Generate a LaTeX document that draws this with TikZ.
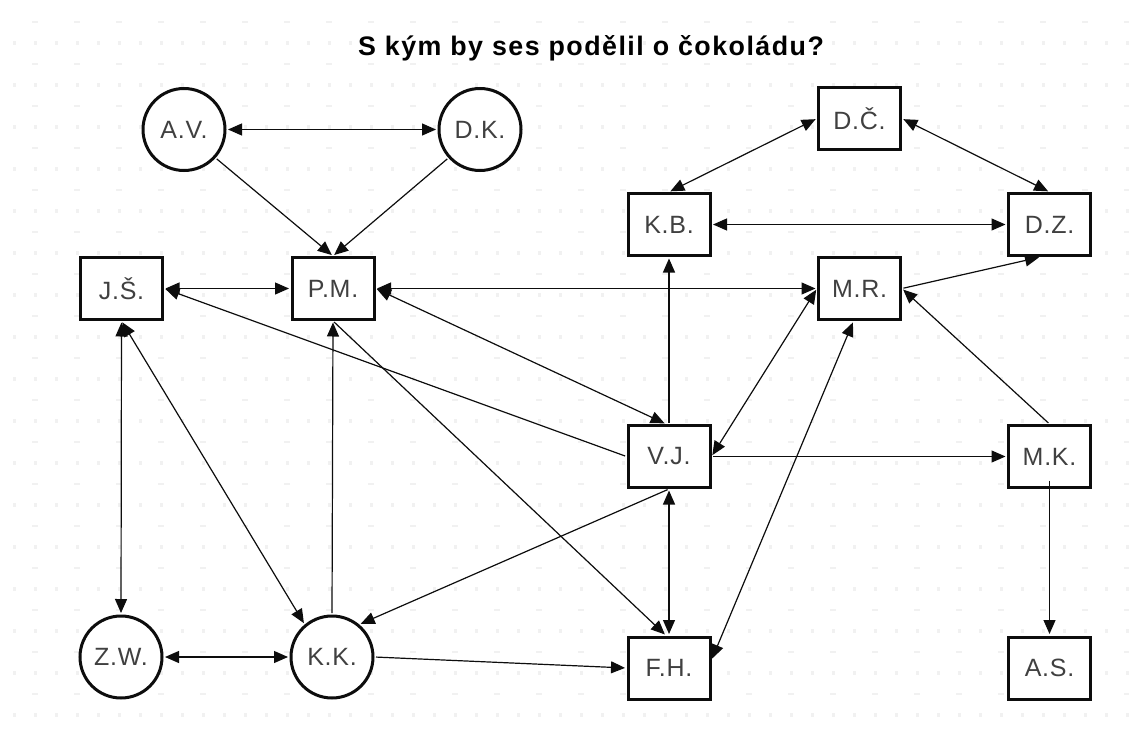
\documentclass[tikz,border=0pt]{standalone}
\usepackage{fontspec}
\setmainfont{Liberation Sans}
\newfontfamily\titlefont[LetterSpace=5.5]{Liberation Sans}
\newfontfamily\labelfont[LetterSpace=3]{Liberation Sans}
\usetikzlibrary{arrows.meta,shapes.geometric}
\definecolor{ink}{gray}{0.05}
\definecolor{labelink}{gray}{0.25}
\definecolor{griddot}{gray}{0.945}
\tikzset{
  boxnode/.style={draw=ink,line width=3pt,rectangle,minimum width=82pt,minimum height=62pt,inner sep=0pt,fill=white,text=labelink,font=\labelfont\fontsize{25}{28}\selectfont},
  disc/.style={draw=ink,line width=3pt,circle,minimum size=82pt,inner sep=0pt,fill=white,text=labelink,font=\labelfont\fontsize{25}{28}\selectfont},
  tip/.style={-{Triangle[length=14pt,width=12pt]}},
  bothtips/.style={{Triangle[length=14pt,width=12pt]}-{Triangle[length=14pt,width=12pt]}},
  link/.style={draw=ink,line width=1.2pt,shorten >=1.5pt,shorten <=1.5pt},
}
\begin{document}
\begin{tikzpicture}[x=1pt,y=-1pt]
\useasboundingbox (0,0) rectangle (1129,733);
\fill[white] (0,0) rectangle (1129,733);
% faint dotted grid of the background
\foreach \k in {0,...,16}{
  \foreach \j in {0,...,26}{
    \fill[griddot] ({35+42*\j-3},{22+42*\k-0.8}) rectangle ++(6,1.6);
    \fill[griddot] ({14+42*\j-1.5},{43+42*\k-2}) rectangle ++(3,4);
    \fill[griddot] ({35+42*\j-1.5},{43+42*\k-2}) rectangle ++(3,4);
  }
}
\node[font=\titlefont\bfseries\fontsize{26.8}{30}\selectfont,text=black] (title) at (591,48) {S kým by ses podělil o čokoládu?};
\node[disc] (av) at (184,129.5) {A.V.};
\node[disc] (dk) at (480,129.5) {D.K.};
\node[disc] (zw) at (121,657) {Z.W.};
\node[disc] (kk) at (332,657) {K.K.};
\node[boxnode] (js) at (121.5,288.5) {J.Š.};
\node[boxnode] (pm) at (333,288.5) {P.M.};
\node[boxnode] (dc) at (859.5,118.5) {D.Č.};
\node[boxnode] (kb) at (669,224.5) {K.B.};
\node[boxnode] (dz) at (1049.5,224.5) {D.Z.};
\node[boxnode] (mr) at (859.5,288.5) {M.R.};
\node[boxnode] (vj) at (669,456.5) {V.J.};
\node[boxnode] (mk) at (1049.5,456.5) {M.K.};
\node[boxnode] (fh) at (669,668) {F.H.};
\node[boxnode] (as) at (1049.5,668) {A.S.};
\draw[link,bothtips] (av.east) -- (dk.west);
\draw[link,tip] (av.-42) -- (pm.north);
\draw[link,tip] (dk.222) -- (pm.north);
\draw[link,bothtips] (js.east) -- (pm.west);
\draw[link,bothtips] (pm.east) -- (mr.west);
\draw[link,bothtips] (js.south) -- (zw.north);
\draw[link,bothtips] (zw.east) -- (kk.west);
\draw[link,bothtips] (js.south) -- (kk.130);
\draw[link,tip] (kk.north) -- (pm.south);
\draw[link,tip] (pm.south) -- ([xshift=-3pt]fh.north);
\draw[link,bothtips] (pm.east) -- ([xshift=-3pt]vj.north);
\draw[link,tip] (vj.west) -- (js.east);
\draw[link,tip] (vj.north) -- (kb.south);
\draw[link,bothtips] (vj.east) -- (mr.west);
\draw[link,tip] (vj.east) -- (mk.west);
\draw[link,bothtips] (vj.south) -- (fh.north);
\draw[link,tip] (vj.south) -- (kk.50);
\draw[link,tip] (kk.east) -- (fh.west);
\draw[link,bothtips] ([yshift=8pt]fh.east) -- ([xshift=-6pt]mr.south);
\draw[link,tip] (mr.east) -- ([xshift=-9pt]dz.south);
\draw[link,tip] (mk.north) -- (mr.east);
\draw[link,tip] ([yshift=10pt]mk.south) -- (as.north);
\draw[link,bothtips] (kb.east) -- (dz.west);
\draw[link,bothtips] (kb.north) -- (dc.west);
\draw[link,bothtips] (dc.east) -- (dz.north);
\end{tikzpicture}
\end{document}
